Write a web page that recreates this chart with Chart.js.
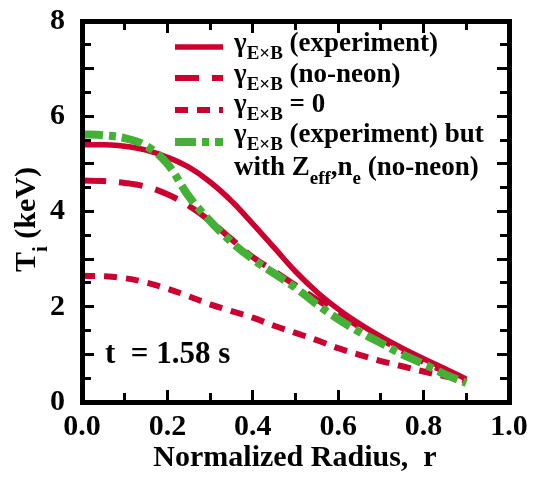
<!DOCTYPE html>
<html>
<head>
<meta charset="utf-8">
<title>Ti profiles</title>
<script src="https://cdn.jsdelivr.net/npm/chart.js@4.4.1/dist/chart.umd.min.js"></script>
<style>
    html, body { margin: 0; padding: 0; background: #ffffff; }
    #wrap { position: relative; width: 539px; height: 485px; }
    #overlay { position: absolute; left: 0; top: 0; width: 539px; height: 485px; pointer-events: none; }
    #overlay div { position: absolute; background: #000; }
</style>
</head>
<body>
<div id="wrap"><canvas id="chart" width="539" height="485"></canvas><div id="overlay"></div></div>
<script>
// ── Data ─────────────────────────────────────────────────────────────────────

const radius = [0.00, 0.05, 0.10, 0.15, 0.20, 0.25, 0.30, 0.35, 0.40, 0.45,
                0.50, 0.55, 0.60, 0.65, 0.70, 0.75, 0.80, 0.85, 0.90];

// gamma_ExB (experiment)
const tiExperiment = [5.40, 5.40, 5.37, 5.29, 5.14, 4.93, 4.62, 4.22, 3.74, 3.24,
                      2.74, 2.31, 1.95, 1.64, 1.37, 1.13, 0.91, 0.70, 0.48];
// gamma_ExB (no-neon)
const tiNoNeon     = [4.65, 4.64, 4.60, 4.52, 4.36, 4.12, 3.80, 3.42, 3.04, 2.75,
                      2.45, 2.15, 1.86, 1.58, 1.32, 1.07, 0.84, 0.64, 0.46];
// gamma_ExB = 0
const tiNoShear    = [2.65, 2.64, 2.60, 2.51, 2.38, 2.22, 2.05, 1.91, 1.77, 1.60,
                      1.45, 1.30, 1.13, 0.99, 0.86, 0.75, 0.64, 0.54, 0.45];
// gamma_ExB (experiment) but with Zeff, ne (no-neon)
const tiExpZeffNe  = [5.62, 5.60, 5.54, 5.38, 5.00, 4.32, 3.80, 3.36, 3.00, 2.70,
                      2.40, 2.05, 1.74, 1.47, 1.24, 1.00, 0.80, 0.58, 0.40];

const xTicks = [0.0, 0.2, 0.4, 0.6, 0.8, 1.0];
const yTicks = [0, 2, 4, 6, 8];

// ── Styling ──────────────────────────────────────────────────────────────────

const RED   = "#cc0030";
const GREEN = "#44b035";
const SERIF = '"Liberation Serif", "DejaVu Serif", serif';

const pairs = ys => radius.map((r, i) => ({ x: r, y: ys[i] }));

/**
 * Draw a run of text pieces left to right; pieces flagged `sub` are
 * smaller and dropped below the baseline.
 */
function richText(ctx, x, y, parts, size, subSize, subDrop) {
    parts.forEach(p => {
        const s = p.sub ? subSize : size;
        ctx.font = `bold ${s}px ${SERIF}`;
        ctx.fillText(p.t, x, p.sub ? y + subDrop : y);
        x += ctx.measureText(p.t).width;
    });
}

// ── Heavy box with inward ticks, laid over the canvas from the scales ────────

function addBar(host, x, y, w, h) {
    const d = document.createElement("div");
    d.style.left   = x + "px";
    d.style.top    = y + "px";
    d.style.width  = w + "px";
    d.style.height = h + "px";
    host.appendChild(d);
}

const framePlugin = {
    id: "frame",
    afterRender(chart) {
        const host = document.getElementById("overlay");
        host.innerHTML = "";
        const a = chart.chartArea;
        const xs = chart.scales.x, ys = chart.scales.y;

        addBar(host, a.left - 2.5, a.top - 2.5, a.right - a.left + 5, 5);
        addBar(host, a.left - 2.5, a.bottom - 2.5, a.right - a.left + 5, 5);
        addBar(host, a.left - 2.5, a.top - 2.5, 5, a.bottom - a.top + 5);
        addBar(host, a.right - 2.5, a.top - 2.5, 5, a.bottom - a.top + 5);

        for (let i = 0; i <= 10; i++) {
            const px  = xs.getPixelForValue(i / 10);
            const len = i % 2 === 0 ? 12 : 9;
            addBar(host, px - 1.5, a.bottom - len, 3, len);
            addBar(host, px - 1.5, a.top, 3, len);
        }
        for (let i = 0; i <= 16; i++) {
            const py  = ys.getPixelForValue(i / 2);
            const len = i % 2 === 0 ? 12 : 9;
            addBar(host, a.left, py - 1.5, len, 3);
            addBar(host, a.right - len, py - 1.5, len, 3);
        }
    },
};

// ── Titles, legend, annotation ───────────────────────────────────────────────

const labelPlugin = {
    id: "labels",
    afterDraw(chart) {
        const ctx = chart.ctx;
        ctx.save();
        ctx.fillStyle    = "#000";
        ctx.textBaseline = "alphabetic";

        // x title
        ctx.textAlign = "center";
        ctx.font = `bold 30px ${SERIF}`;
        ctx.fillText("Normalized Radius,  r", 295, 466);

        // y title, rotated, with subscript i
        ctx.save();
        ctx.translate(35, 272);
        ctx.rotate(-Math.PI / 2);
        ctx.textAlign = "left";
        richText(ctx, 0, 0, [{ t: "T" }, { t: "i", sub: true }, { t: " (keV)" }], 30, 21, 12);
        ctx.restore();

        // legend
        ctx.textAlign = "left";
        const sampleX0 = 175, sampleX1 = 223, textX = 234;
        const rows = [
            { ds: 0, y: 47,  base: 51,  parts: [{ t: "γ" }, { t: "E×B", sub: true }, { t: " (experiment)" }] },
            { ds: 1, y: 78,  base: 82,  parts: [{ t: "γ" }, { t: "E×B", sub: true }, { t: " (no-neon)" }] },
            { ds: 2, y: 110, base: 112, parts: [{ t: "γ" }, { t: "E×B", sub: true }, { t: " = 0" }] },
            { ds: 3, y: 142, base: 142, parts: [{ t: "γ" }, { t: "E×B", sub: true }, { t: " (experiment) but" }] },
        ];
        rows.forEach(r => {
            const d = chart.data.datasets[r.ds];
            ctx.save();
            ctx.strokeStyle = d.borderColor;
            ctx.lineWidth   = d.borderWidth;
            ctx.setLineDash(d.borderDash || []);
            ctx.beginPath();
            ctx.moveTo(sampleX0, r.y);
            ctx.lineTo(sampleX1, r.y);
            ctx.stroke();
            ctx.restore();
            richText(ctx, textX, r.base, r.parts, 27, 19, 8);
        });
        richText(ctx, textX, 175, [
            { t: "with Z" }, { t: "eff", sub: true }, { t: "," },
            { t: "n" }, { t: "e", sub: true }, { t: " (no-neon)" },
        ], 27, 19, 9);

        // time stamp
        ctx.font = `bold 31px ${SERIF}`;
        ctx.fillText("t  = 1.58 s", 105, 363);

        ctx.restore();
    },
};

// ── Chart ────────────────────────────────────────────────────────────────────

const xTickFont = { family: SERIF, size: 30, weight: "bold" };
// tiny line height keeps the "8" label from pushing the plot area down
const yTickFont = { family: SERIF, size: 30, weight: "bold", lineHeight: 0.2 };

new Chart(document.getElementById("chart"), {
    type: "line",
    data: {
        datasets: [
            {
                label: "γE×B (experiment)",
                data: pairs(tiExperiment),
                borderColor: RED, borderWidth: 5.5, order: 3,
            },
            {
                label: "γE×B (no-neon)",
                data: pairs(tiNoNeon),
                borderColor: RED, borderWidth: 6, borderDash: [24, 13], order: 2,
            },
            {
                label: "γE×B = 0",
                data: pairs(tiNoShear),
                borderColor: RED, borderWidth: 6, borderDash: [13, 9], order: 1,
            },
            {
                label: "γE×B (experiment) but with Zeff,ne (no-neon)",
                data: pairs(tiExpZeffNe),
                borderColor: GREEN, borderWidth: 8, borderDash: [21, 6, 7, 6], order: 0,
            },
        ],
    },
    options: {
        responsive: false,
        animation: false,
        devicePixelRatio: 1,
        layout: { padding: { left: 0, top: 21, right: 30, bottom: 0 } },
        elements: {
            point: { radius: 0 },
            line:  { tension: 0.4, fill: false, borderCapStyle: "butt" },
        },
        plugins: {
            legend:  { display: false },
            tooltip: { enabled: false },
        },
        scales: {
            x: {
                type: "linear", min: 0, max: 1,
                grid:   { display: false, drawTicks: false },
                border: { display: false },
                afterBuildTicks: s => { s.ticks = xTicks.map(v => ({ value: v })); },
                afterFit: s => { s.height = 83; },
                ticks: {
                    autoSkip: false, maxRotation: 0, padding: 7,
                    color: "#000", font: xTickFont,
                    callback: v => Number(v).toFixed(1),
                },
            },
            y: {
                min: 0, max: 8,
                grid:   { display: false, drawTicks: false },
                border: { display: false },
                afterBuildTicks: s => { s.ticks = yTicks.map(v => ({ value: v })); },
                afterFit: s => { s.width = 82; },
                ticks: {
                    autoSkip: false, padding: 17,
                    color: "#000", font: yTickFont,
                },
            },
        },
    },
    plugins: [framePlugin, labelPlugin],
});
</script>
</body>
</html>
